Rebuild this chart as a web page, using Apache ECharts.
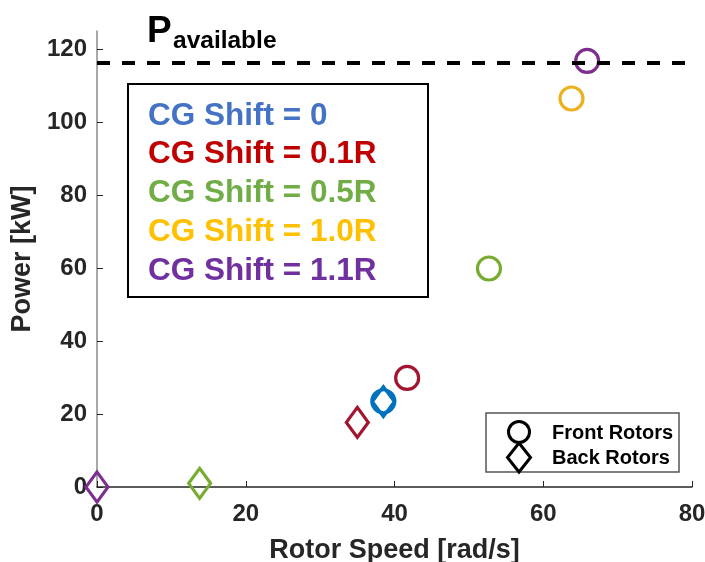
<!DOCTYPE html>
<html>
<head>
<meta charset="utf-8">
<script src="https://cdn.jsdelivr.net/npm/echarts@6/dist/echarts.min.js"></script>
<style>
  html, body { margin: 0; padding: 0; background: #fff; }
  #chart { width: 705px; height: 562px; }
</style>
</head>
<body>
<div id="chart"></div>
<script>
// CG shift cases (one colour per case)
const shiftLabels = ['CG Shift = 0', 'CG Shift = 0.1R', 'CG Shift = 0.5R', 'CG Shift = 1.0R', 'CG Shift = 1.1R'];
const markerColors = ['#0072BD', '#A2142F', '#77AC30', '#EDB120', '#7E2F8E'];
const textColors = ['#4472C4', '#C00000', '#70AD47', '#FFC000', '#7030A0'];

// Front rotors: rotor speed [rad/s] and power [kW]
const frontSpeed = [38.5, 41.7, 52.7, 63.8, 65.9];
const frontPower = [23.5, 29.9, 59.9, 106.5, 116.8];

// Back rotors: rotor speed [rad/s] and power [kW]
const backSpeed = [38.5, 35.0, 13.8, null, 0];
const backPower = [23.4, 17.7, 1.0, null, 0];

// Available power level [kW]
const pAvailable = 116.4;

// Axis ticks
const xTicks = [0, 20, 40, 60, 80];
const yTicks = [0, 20, 40, 60, 80, 100, 120];

const FONT = 'Liberation Sans, Arial, Helvetica, sans-serif';
const AXIS_TXT = '#262626';

function points(xs, ys) {
  const out = [];
  xs.forEach((x, i) => {
    if (x === null || ys[i] === null) return;
    out.push({ value: [x, ys[i]], itemStyle: { borderColor: markerColors[i] } });
  });
  return out;
}

const chart = echarts.init(document.getElementById('chart'), null, { renderer: 'canvas' });

const legendTexts = shiftLabels.map((t, i) => ({
  type: 'text',
  left: 148,
  top: 100 + i * 38.8,
  z: 11,
  style: {
    text: t,
    fill: textColors[i],
    font: 'bold 31.5px ' + FONT
  }
}));

chart.setOption({
  animation: false,
  backgroundColor: '#fff',
  grid: { left: 97, right: 13, top: 31, bottom: 75, containLabel: false, outerBoundsMode: 'none' },
  xAxis: {
    type: 'value',
    min: 0, max: 80, interval: 20,
    name: 'Rotor Speed [rad/s]',
    nameLocation: 'middle',
    nameGap: 50,
    nameTextStyle: { fontFamily: FONT, fontWeight: 'bold', fontSize: 27, color: AXIS_TXT },
    axisLine: { show: true, onZero: false, lineStyle: { color: AXIS_TXT, width: 1.5 } },
    axisTick: { show: true, inside: true, length: 6, lineStyle: { color: AXIS_TXT, width: 1 }, customValues: xTicks },
    axisLabel: { fontFamily: FONT, fontWeight: 'bold', fontSize: 24, color: AXIS_TXT, margin: 15, customValues: xTicks },
    splitLine: { show: false }
  },
  yAxis: {
    type: 'value',
    min: 0, max: 125,
    name: 'Power [kW]',
    nameLocation: 'middle',
    nameGap: 54,
    nameRotate: 90,
    nameTextStyle: { fontFamily: FONT, fontWeight: 'bold', fontSize: 27, color: AXIS_TXT },
    axisLine: { show: true, onZero: false, lineStyle: { color: '#8c8c8c', width: 1.5 } },
    axisTick: { show: true, inside: true, length: 6, lineStyle: { color: AXIS_TXT, width: 1 }, customValues: yTicks },
    axisLabel: { fontFamily: FONT, fontWeight: 'bold', fontSize: 24, color: AXIS_TXT, margin: 10, customValues: yTicks },
    splitLine: { show: false }
  },
  series: [
    {
      name: 'Front Rotors',
      type: 'scatter',
      symbol: 'circle',
      symbolSize: 23,
      itemStyle: { color: 'rgba(255,255,255,0)', borderWidth: 3.2, opacity: 1 },
      data: points(frontSpeed, frontPower),
      z: 3,
      markLine: {
        silent: true,
        symbol: ['none', 'none'],
        label: { show: false },
        lineStyle: { color: '#000', width: 4, type: [13, 12] },
        data: [{ yAxis: pAvailable }]
      }
    },
    {
      name: 'Back Rotors',
      type: 'scatter',
      symbol: 'diamond',
      symbolSize: [22, 30],
      itemStyle: { color: 'rgba(255,255,255,0)', borderWidth: 3.2, opacity: 1 },
      data: points(backSpeed, backPower),
      z: 4
    }
  ],
  graphic: [
    // P_available annotation
    { type: 'text', left: 147, top: 13, style: { text: 'P', fill: '#000', font: 'bold 37px ' + FONT } },
    { type: 'text', left: 173, top: 29, style: { text: 'available', fill: '#000', font: 'bold 24.5px ' + FONT } },
    // CG shift legend box
    { type: 'rect', shape: { x: 128, y: 84, width: 300, height: 213 }, style: { fill: '#fff', stroke: '#000', lineWidth: 2 }, z: 10 },
    ...legendTexts,
    // Rotor marker legend box
    { type: 'rect', shape: { x: 486, y: 413, width: 193, height: 59 }, style: { fill: '#fff', stroke: '#555', lineWidth: 1.5 }, z: 10 },
    { type: 'circle', shape: { cx: 519, cy: 432, r: 10.5 }, style: { fill: 'none', stroke: '#000', lineWidth: 3 }, z: 11 },
    { type: 'polygon', shape: { points: [[519, 443], [530.5, 457.5], [519, 472], [507.5, 457.5]] }, style: { fill: 'none', stroke: '#000', lineWidth: 3 }, z: 11 },
    { type: 'text', left: 552, top: 423, style: { text: 'Front Rotors', fill: '#000', font: 'bold 20px ' + FONT }, z: 11 },
    { type: 'text', left: 552, top: 448, style: { text: 'Back Rotors', fill: '#000', font: 'bold 20px ' + FONT }, z: 11 }
  ]
});
</script>
</body>
</html>
